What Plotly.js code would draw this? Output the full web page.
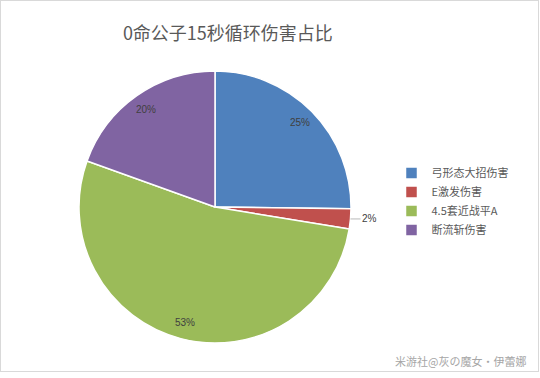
<!DOCTYPE html>
<html>
<head>
<meta charset="utf-8">
<script src="https://cdn.plot.ly/plotly-3.0.1.min.js"></script>
<style>
html,body{margin:0;padding:0;background:#fff;}
#frame{position:absolute;left:0;top:0;width:537px;height:370px;border:1px solid #d9d9d9;}
#chart{position:absolute;left:0;top:0;width:540px;height:378px;}
</style>
</head>
<body>
<div id="frame"></div>
<div id="chart"></div>
<script>
const categories = ["弓形态大招伤害", "E激发伤害", "4.5套近战平A", "断流斩伤害"];
const shares = [25.2, 2.4, 52.9, 19.5];
const colors = ["#4F81BD", "#C0504D", "#9BBB59", "#8064A2"];
const outsideLabel = [false, true, false, false];

const W = 540, H = 378;
const domainX = [0.1463, 0.65], domainY = [0.0926, 0.8122];

// label placement derived from the data (slice mid-angles), Excel "best fit" style
const total = shares.reduce((a, b) => a + b, 0);
const cx = (domainX[0] + domainX[1]) / 2 * W;
const cy = (domainY[0] + domainY[1]) / 2 * H; // from bottom
const R = Math.min((domainX[1] - domainX[0]) * W, (domainY[1] - domainY[0]) * H) / 2;
const annotations = [];
let acc = 0;
shares.forEach((v, i) => {
  const mid = (acc + v / 2) / total * 2 * Math.PI;
  acc += v;
  const txt = Math.round(v / total * 100) + "%";
  const font = {family: "Liberation Sans, Arial, sans-serif", size: 10, color: "#404040"};
  if (outsideLabel[i]) {
    annotations.push({
      text: txt, xref: "paper", yref: "paper",
      x: (cx + R * Math.sin(mid)) / W, y: (cy + R * Math.cos(mid)) / H,
      showarrow: true, arrowhead: 0, arrowwidth: 0.8, arrowcolor: "#a6a6a6",
      ax: 19, ay: 0, standoff: 0, startstandoff: 0, font: font
    });
  } else {
    const rr = 0.88 * R;
    annotations.push({
      text: txt, xref: "paper", yref: "paper",
      x: (cx + rr * Math.sin(mid)) / W, y: (cy + rr * Math.cos(mid)) / H,
      xanchor: "center", yanchor: "middle", showarrow: false, font: font
    });
  }
});
annotations.push({
  text: "米游社@灰の魔女·伊蕾娜",
  xref: "paper", yref: "paper", x: 0.977, y: 0.045, xanchor: "right", yanchor: "middle",
  showarrow: false,
  font: {family: "Noto Sans CJK SC, sans-serif", size: 11, color: "#a6a6a6"}
});

const trace = {
  type: "pie",
  labels: categories,
  values: shares,
  sort: false,
  direction: "clockwise",
  rotation: 0,
  marker: {colors: colors, line: {color: "#ffffff", width: 1.5}},
  textinfo: "none",
  hoverinfo: "label+percent",
  domain: {x: domainX, y: domainY}
};

const layout = {
  width: W,
  height: H,
  margin: {l: 0, r: 0, t: 0, b: 0},
  paper_bgcolor: "rgba(0,0,0,0)",
  plot_bgcolor: "rgba(0,0,0,0)",
  title: {
    text: "0命公子15秒循环伤害占比",
    font: {family: "Noto Sans CJK SC, sans-serif", size: 18, color: "#595959"},
    x: 0.422, xanchor: "center", y: 0.912, yanchor: "middle"
  },
  showlegend: true,
  legend: {
    x: 0.725, xanchor: "left", y: 0.467, yanchor: "middle",
    font: {family: "Noto Sans CJK SC, sans-serif", size: 11, color: "#595959"},
    itemwidth: 30, tracegroupgap: 0, traceorder: "normal"
  },
  annotations: annotations
};

Plotly.newPlot("chart", [trace], layout, {displayModeBar: false, staticPlot: true});
</script>
</body>
</html>
